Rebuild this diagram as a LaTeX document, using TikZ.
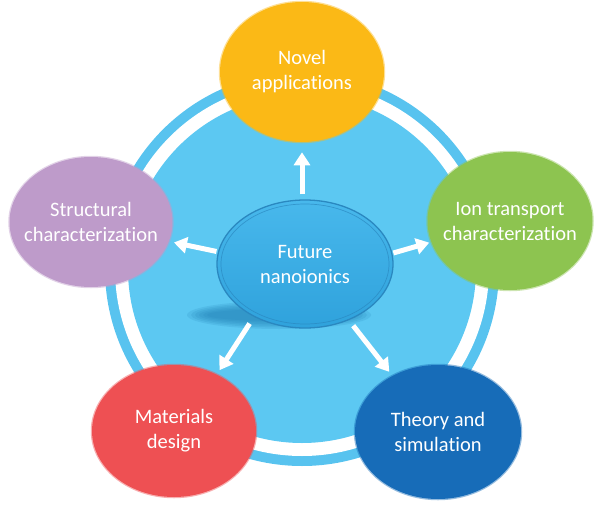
\documentclass[tikz,border=0pt]{standalone}
\usepackage{fontspec}
\setmainfont[Ligatures=NoCommon]{Carlito}
\usetikzlibrary{shapes.geometric,arrows.meta}
\definecolor{skyb}{HTML}{5CC8F2}
\definecolor{ringb}{HTML}{58C3EF}
\definecolor{futtop}{HTML}{48B8EC}
\definecolor{futbot}{HTML}{2FA2DC}
\definecolor{futedge}{HTML}{2A88C0}
\definecolor{shadc}{HTML}{1F7FB5}
\definecolor{yel}{HTML}{FBB916}
\definecolor{pur}{HTML}{BE9BCA}
\definecolor{grn}{HTML}{8DC450}
\definecolor{redc}{HTML}{EE5053}
\definecolor{dblue}{HTML}{176CB8}
\tikzset{
  bub/.style={ellipse, inner sep=0pt, fill=#1, draw=#1, draw opacity=0.45, line width=2.5pt},
  lbl/.style={font=\fontsize{20.5}{25}\selectfont, text=white, align=center, inner sep=0pt},
  arr/.style={draw=white, line width=5pt, -{Triangle[length=13pt,width=16pt]}}
}
\begin{document}
\begin{tikzpicture}[x=1pt,y=-1pt]
\useasboundingbox (0,0) rectangle (600,506);
% ring and disk
\fill[ringb] (302,269) circle (197pt);
\fill[white] (302,269) circle (187pt);
\fill[skyb] (302,269) circle (174pt);
% shadow of the centre ellipse
\foreach \k in {0,...,5}
  \fill[shadc, opacity=0.16] (279,315) ellipse ({(92-\k*4)*1pt} and {(14-\k*1.6)*1pt});
% centre node
\node[ellipse, inner sep=0pt, minimum width=176pt, minimum height=128pt,
      top color=futtop, bottom color=futbot, draw=futedge, line width=1.3pt,
      label={[lbl]center:{Future\\nanoionics}}] (fut) at (305,264) {};
\draw[futedge, line width=0.7pt, opacity=0.7] (fut.center) ellipse (84pt and 60pt);
% outer nodes
\node[bub=yel, minimum width=164pt, minimum height=140pt,
      label={[lbl]center:{Novel\\applications}}] (nov) at (302,72) {};
\node[bub=pur, minimum width=163pt, minimum height=130pt,
      label={[lbl]center:{Structural\\characterization}}] (str) at (91,222) {};
\node[bub=grn, minimum width=165pt, minimum height=138pt,
      label={[lbl]center:{Ion transport\\characterization}}] (ion) at (510,221) {};
\node[bub=redc, minimum width=164pt, minimum height=132pt,
      label={[lbl]center:{Materials\\design}}] (mat) at (174,431) {};
\node[bub=dblue, minimum width=166pt, minimum height=134pt,
      label={[lbl]center:{Theory and\\simulation}}] (the) at (438,432) {};
% arrows
\draw[arr, shorten <=5pt, shorten >=9pt] (fut.north -| nov.south) -- (nov.south);
\draw[arr, shorten <=1.5pt, shorten >=4pt] (fut.172) -- (str.-14);
\draw[arr, shorten <=1pt, shorten >=1pt] (fut.7) -- (ion.195);
\draw[arr, shorten <=8pt, shorten >=4pt] (fut.-134) -- (mat.53);
\draw[arr, shorten <=7pt, shorten >=4pt] (fut.-52) -- (the.129);
\end{tikzpicture}
\end{document}
